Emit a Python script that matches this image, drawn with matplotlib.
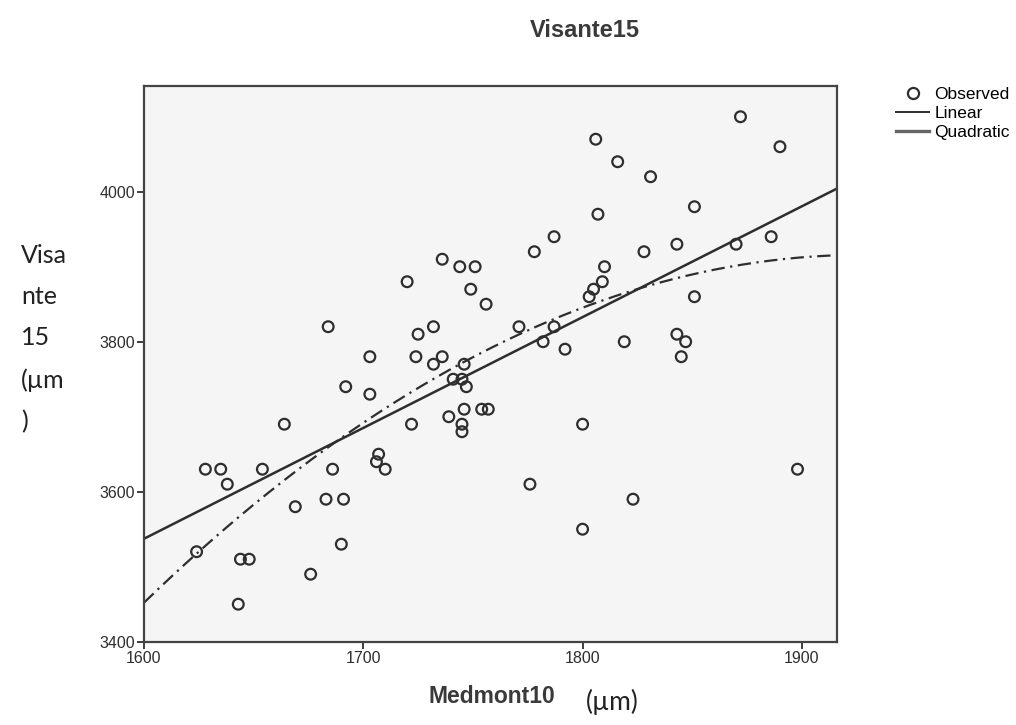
import numpy as np
import matplotlib
matplotlib.use('Agg')
import matplotlib.pyplot as plt
from matplotlib.lines import Line2D

# observed pairs (Medmont10, Visante15)
medmont = [1736, 1744, 1751, 1720, 1749, 1756, 1684, 1732, 1725, 1703,
           1724, 1736, 1732, 1746, 1741, 1745, 1747, 1692, 1703, 1664,
           1722, 1739, 1746, 1754, 1757, 1745, 1745, 1707, 1706, 1710,
           1628, 1635, 1654, 1686, 1638, 1683, 1691, 1669, 1690, 1624,
           1644, 1648, 1676, 1643, 1872, 1806, 1890, 1816, 1831, 1851,
           1807, 1787, 1886, 1778, 1828, 1843, 1870, 1810, 1809, 1805,
           1803, 1851, 1771, 1787, 1782, 1792, 1819, 1843, 1847, 1845,
           1800, 1776, 1823, 1800, 1898]
visante = [3910, 3900, 3900, 3880, 3870, 3850, 3820, 3820, 3810, 3780,
           3780, 3780, 3770, 3770, 3750, 3750, 3740, 3740, 3730, 3690,
           3690, 3700, 3710, 3710, 3710, 3690, 3680, 3650, 3640, 3630,
           3630, 3630, 3630, 3630, 3610, 3590, 3590, 3580, 3530, 3520,
           3510, 3510, 3490, 3450, 4100, 4070, 4060, 4040, 4020, 3980,
           3970, 3940, 3940, 3920, 3920, 3930, 3930, 3900, 3880, 3870,
           3860, 3860, 3820, 3820, 3800, 3790, 3800, 3810, 3800, 3780,
           3690, 3610, 3590, 3550, 3630]

x_ticks = [1600, 1700, 1800, 1900]
y_ticks = [3400, 3600, 3800, 4000]

x = np.array(medmont, dtype=float)
y = np.array(visante, dtype=float)
lin = np.polyfit(x, y, 1)    # linear fit
quad = np.polyfit(x, y, 2)   # quadratic fit

INK = '#2e2e2e'
SANS = 'Liberation Sans'

fig = plt.figure(figsize=(10.16, 7.25), dpi=100)
ax = fig.add_axes([0.1417, 0.1149, 0.6821, 0.7665])
ax.set_facecolor('#f5f5f5')

xlim = (1600, 1916)
ax.set_xlim(*xlim)
ax.set_ylim(3400, 4141)

xx = np.linspace(xlim[0], xlim[1], 200)
ax.plot(xx, np.polyval(lin, xx), color=INK, lw=1.8, zorder=2)
ax.plot(xx, np.polyval(quad, xx), color=INK, lw=1.6,
        dashes=(6, 2.5, 1, 2.5), zorder=2)
ax.scatter(x, y, s=60, facecolors='none', edgecolors=INK,
           linewidths=1.6, zorder=3)

ax.set_xticks(x_ticks)
ax.set_yticks(y_ticks)
ax.tick_params(direction='out', length=5, width=1.3, colors=INK,
               labelsize=11.5, pad=1.5)
for lab in ax.get_xticklabels() + ax.get_yticklabels():
    lab.set_family(SANS)
for sp in ax.spines.values():
    sp.set_color('#444444')
    sp.set_linewidth(1.6)

fig.text(0.576, 0.958, 'Visante15', ha='center', va='center',
         fontsize=17, fontweight='bold', family=SANS, color='#3a3a3a')

fig.text(0.021, 0.663, 'Visa\nnte\n15\n(\u00b5m\n)', ha='left', va='top',
         fontsize=18, family='Lato', color='#222222', linespacing=1.95)

fig.text(0.484, 0.039, 'Medmont10', ha='center', va='center',
         fontsize=16.5, fontweight='bold', family=SANS, color='#3a3a3a')
fig.text(0.603, 0.032, '(\u00b5m)', ha='center', va='center',
         fontsize=19, family='Lato', color='#222222')

handles = [
    Line2D([], [], marker='o', ls='none', mfc='none', mec=INK, mew=1.6, ms=8),
    Line2D([], [], color=INK, lw=1.4),
    Line2D([], [], color='#666666', lw=2.4),
]
fig.legend(handles, ['Observed', 'Linear', 'Quadratic'],
           loc='upper left', bbox_to_anchor=(0.882, 0.88), frameon=False,
           prop={'family': SANS, 'size': 12.5}, handlelength=1.9,
           handletextpad=0.3, labelspacing=0.22, borderpad=0,
           borderaxespad=0)

fig.savefig('out.png', dpi=100)
